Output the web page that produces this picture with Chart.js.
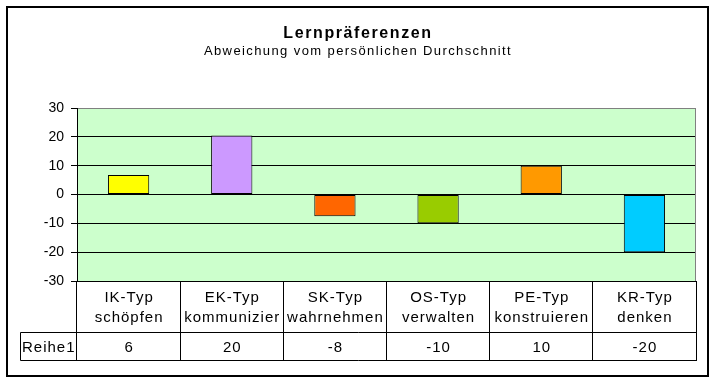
<!DOCTYPE html>
<html><head><meta charset="utf-8">
<script src="https://cdn.jsdelivr.net/npm/chart.js@4/dist/chart.umd.min.js"></script>
<style>html,body{margin:0;padding:0;background:#fff}#wrap{width:714px;height:382px;position:relative}canvas{display:block}</style>
</head><body><div id="wrap"><canvas id="c" width="714" height="382"></canvas></div>
<script>
const titleText = 'Lernpräferenzen';
const subtitleText = 'Abweichung vom persönlichen Durchschnitt';
const typeLabels = ['IK-Typ', 'EK-Typ', 'SK-Typ', 'OS-Typ', 'PE-Typ', 'KR-Typ'];
const verbLabels = ['schöpfen', 'kommunizier', 'wahrnehmen', 'verwalten', 'konstruieren', 'denken'];
const seriesName = 'Reihe1';
const values = [6.8, 20.5, -7.5, -10, 10, -20];
const tableValues = ['6', '20', '-8', '-10', '10', '-20'];
const barColors = ['#FFFF00', '#CC99FF', '#FF6600', '#99CC00', '#FF9900', '#00CCFF'];
const yMin = -30, yMax = 30, yStep = 10;

const FONT = '"Liberation Sans", Arial, sans-serif';

const deco = {
  id: 'deco',
  beforeDraw(chart) {
    const { ctx, chartArea: a } = chart;
    ctx.save();
    ctx.fillStyle = '#ffffff';
    ctx.fillRect(0, 0, chart.width, chart.height);
    ctx.fillStyle = '#CCFFCC';
    ctx.fillRect(a.left, a.top, a.right - a.left, a.bottom - a.top);
    ctx.restore();
  },
  beforeDatasetsDraw(chart) {
    const { ctx, chartArea: a } = chart;
    ctx.save();
    ctx.strokeStyle = '#808080';
    ctx.lineWidth = 1;
    const r = Math.round(a.right) - 0.5;
    ctx.beginPath();
    ctx.moveTo(r, Math.round(a.top) + 0.5);
    ctx.lineTo(r, Math.round(a.bottom));
    ctx.stroke();
    ctx.restore();
  },
  afterDraw(chart) {
    const { ctx, chartArea: a } = chart;
    const xs = chart.scales.x;
    const n = typeLabels.length;
    const step = xs.getPixelForValue(1) - xs.getPixelForValue(0);
    const edge = i => xs.getPixelForValue(0) - step / 2 + i * step;
    const cx = 357;
    ctx.save();
    ctx.fillStyle = '#000';
    ctx.textAlign = 'center';
    ctx.textBaseline = 'alphabetic';
    // title + subtitle
    ctx.font = 'bold 16px ' + FONT;
    ctx.letterSpacing = '1.6px';
    ctx.fillText(titleText, cx + 1, 38);
    ctx.font = '13px ' + FONT;
    ctx.letterSpacing = '1.4px';
    ctx.fillText(subtitleText, cx + 1, 55);

    // data table
    const top = Math.round(a.bottom);
    const headBottom = 332.5;
    const rowBottom = 360.5;
    const leftLabel = 20.5;
    ctx.strokeStyle = '#000';
    ctx.lineWidth = 1;
    ctx.beginPath();
    for (let i = 0; i <= n; i++) {
      const x = Math.floor(edge(i)) + 0.5;
      ctx.moveTo(x, top);
      ctx.lineTo(x, rowBottom + 0.5);
    }
    ctx.moveTo(leftLabel, headBottom);
    ctx.lineTo(Math.floor(edge(n)) + 1, headBottom);
    ctx.moveTo(leftLabel, rowBottom);
    ctx.lineTo(Math.floor(edge(n)) + 1, rowBottom);
    ctx.moveTo(leftLabel, headBottom);
    ctx.lineTo(leftLabel, rowBottom);
    ctx.stroke();

    ctx.font = '15px ' + FONT;
    ctx.letterSpacing = '1px';
    for (let i = 0; i < n; i++) {
      const x = xs.getPixelForValue(i) + 0.5;
      ctx.fillText(typeLabels[i], x, 302);
      ctx.fillText(verbLabels[i], x, 322);
      ctx.fillText(tableValues[i], x, 352);
    }
    ctx.textAlign = 'left';
    ctx.fillText(seriesName, 22, 352);

    // outer frame
    ctx.letterSpacing = '0px';
    ctx.lineWidth = 2;
    ctx.strokeRect(7, 7, 701, 369);
    ctx.restore();
  }
};

new Chart(document.getElementById('c'), {
  type: 'bar',
  data: {
    labels: typeLabels,
    datasets: [{
      label: seriesName,
      data: values,
      backgroundColor: barColors,
      borderColor: '#000000',
      borderWidth: 1,
      borderSkipped: false,
      barPercentage: 0.4,
      categoryPercentage: 1.0
    }]
  },
  options: {
    responsive: false,
    animation: false,
    devicePixelRatio: 1,
    layout: { padding: { left: 0, right: 18, top: 108, bottom: 101 } },
    plugins: {
      legend: { display: false },
      title: { display: false },
      tooltip: { enabled: false }
    },
    scales: {
      x: { display: false },
      y: {
        min: yMin,
        max: yMax,
        afterFit(s) { s.width = 77; },
        ticks: {
          stepSize: yStep,
          padding: 7,
          color: '#000',
          font: { family: FONT, size: 14 }
        },
        grid: {
          color: c => (c.tick && c.tick.value === yMax) ? '#808080' : '#000000',
          tickColor: '#000000',
          tickLength: 6,
          lineWidth: 1
        },
        border: { color: '#000000', width: 1 }
      }
    }
  },
  plugins: [deco]
});
</script>
</body></html>
